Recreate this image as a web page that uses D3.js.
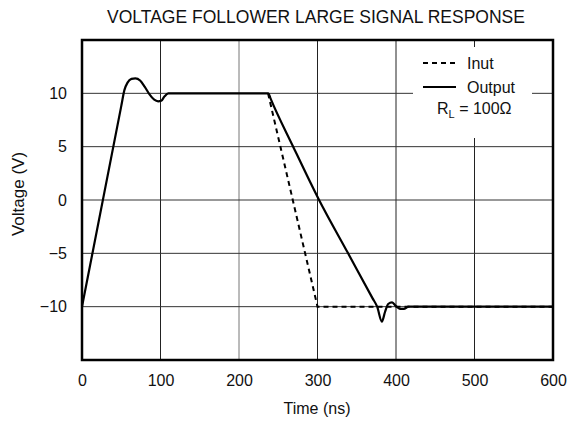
<!DOCTYPE html>
<html><head><meta charset="utf-8">
<script src="https://cdn.jsdelivr.net/npm/d3@7"></script>
<style>body{margin:0;background:#fff}svg{display:block}text{font-family:"Liberation Sans",Arial,sans-serif;fill:#111}</style>
</head><body><svg id="c" width="568" height="424"></svg>
<script>
const title = "VOLTAGE FOLLOWER LARGE SIGNAL RESPONSE";
const xTicks = [0,100,200,300,400,500,600];
const yTicks = [-10,-5,0,5,10];
const yTickLabels = ["\u221210","\u22125","0","5","10"];
const inputT = [237,300,600];
const inputV = [10,-10,-10];
const outputT = [0,50,54,58,63,68,74,80,86,92,97,101,105,110,236,237.5,240,269,302,339,370,376,382,386,390,395,400,405,410,416,600];
const outputV = [-10,8.8,10.3,11.0,11.35,11.4,11.2,10.6,9.9,9.4,9.25,9.3,9.7,10,10,10,9.55,5,0,-5,-9.2,-10,-11.4,-10.5,-9.75,-9.6,-9.95,-10.2,-10.2,-10,-10];

const svg = d3.select("#c");
const m = {l:82, r:553, t:40, b:360};
const x = d3.scaleLinear().domain([0,600]).range([m.l,m.r]);
const y = d3.scaleLinear().domain([-15,15]).range([m.b,m.t]);
const FS = 16;

svg.append("text").attr("x",316).attr("y",23).attr("text-anchor","middle").attr("font-size",17.5).text(title);

const g = svg.append("g");
g.selectAll(".vx").data(xTicks.slice(1,-1)).join("line")
  .attr("x1",d=>x(d)).attr("x2",d=>x(d)).attr("y1",m.t).attr("y2",m.b)
  .attr("stroke",d=>d===200?"#777":"#222").attr("stroke-width",1);
g.selectAll(".hy").data(yTicks).join("line")
  .attr("x1",m.l).attr("x2",m.r).attr("y1",d=>y(d)).attr("y2",d=>y(d))
  .attr("stroke","#333").attr("stroke-width",1);

const xAxis = svg.append("g").attr("transform",`translate(0,${m.b})`)
  .call(d3.axisBottom(x).tickValues(xTicks).tickSize(0).tickPadding(15));
xAxis.select(".domain").remove();
xAxis.selectAll("text").attr("font-size",FS).attr("font-family","Liberation Sans, Arial, sans-serif").attr("fill","#111");
const yAxis = svg.append("g").attr("transform",`translate(${m.l},0)`)
  .call(d3.axisLeft(y).tickValues(yTicks).tickFormat((d,i)=>yTickLabels[i]).tickSize(0).tickPadding(15));
yAxis.select(".domain").remove();
yAxis.selectAll("text").attr("font-size",FS).attr("font-family","Liberation Sans, Arial, sans-serif").attr("fill","#111");

svg.append("text").attr("x",317).attr("y",414).attr("text-anchor","middle").attr("font-size",FS).text("Time (ns)");
svg.append("text").attr("transform","translate(24,194) rotate(-90)").attr("text-anchor","middle").attr("font-size",17).text("Voltage (V)");

const inData = inputT.map((t,i)=>[t,inputV[i]]);
const outData = outputT.map((t,i)=>[t,outputV[i]]);
const lineLin = d3.line().x(d=>x(d[0])).y(d=>y(d[1]));
const lineSm = d3.line().x(d=>x(d[0])).y(d=>y(d[1])).curve(d3.curveMonotoneX);
svg.append("path").attr("d",lineLin(inData)).attr("fill","none").attr("stroke","#000").attr("stroke-width",2).attr("stroke-dasharray","5,4");
svg.append("path").attr("d",lineSm(outData)).attr("fill","none").attr("stroke","#000").attr("stroke-width",2.2).attr("stroke-linejoin","round");

svg.append("rect").attr("x",413).attr("y",47).attr("width",119).attr("height",91).attr("fill","#fff");
svg.append("line").attr("x1",423).attr("x2",455).attr("y1",63).attr("y2",63).attr("stroke","#000").attr("stroke-width",2).attr("stroke-dasharray","5,4");
svg.append("text").attr("x",467).attr("y",69).attr("font-size",FS).text("Inut");
svg.append("line").attr("x1",423).attr("x2",456).attr("y1",87).attr("y2",87).attr("stroke","#000").attr("stroke-width",2.2);
svg.append("text").attr("x",467).attr("y",93).attr("font-size",FS).text("Output");
const rl = svg.append("text").attr("x",437).attr("y",114).attr("font-size",FS);
rl.append("tspan").text("R");
rl.append("tspan").attr("font-size",11).attr("dy",4).text("L");
rl.append("tspan").attr("dy",-4).text(" = 100\u03A9");

svg.append("rect").attr("x",m.l).attr("y",m.t).attr("width",m.r-m.l).attr("height",m.b-m.t).attr("fill","none").attr("stroke","#000").attr("stroke-width",2.5);
</script></body></html>
